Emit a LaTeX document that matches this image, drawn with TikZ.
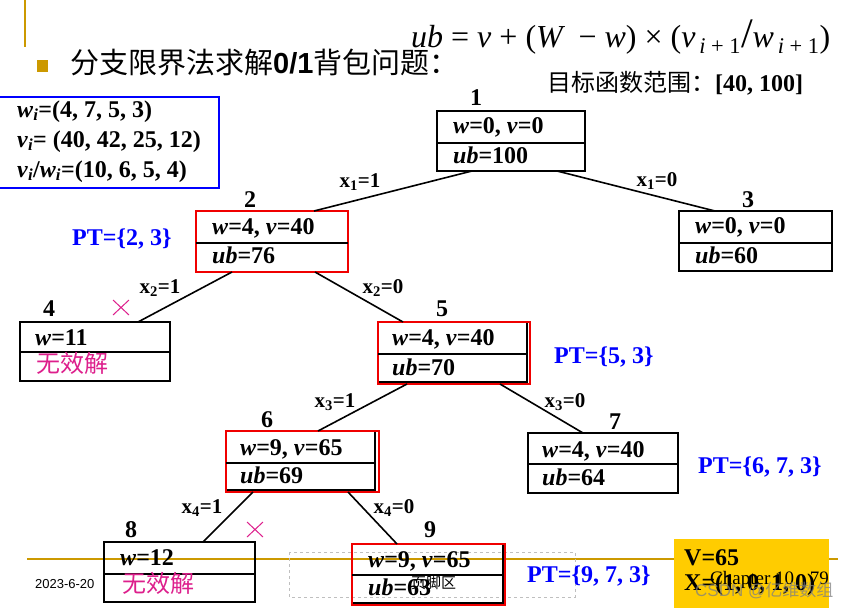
\documentclass[tikz,border=0pt]{standalone}
\usepackage{fontspec}
\setmainfont{Liberation Serif}
\newfontfamily\cjk{Noto Sans CJK SC}
\newfontfamily\arialf{Liberation Sans}
\usetikzlibrary{calc}
\definecolor{gold}{HTML}{CC9900}
\definecolor{ptblue}{HTML}{0000FF}
\definecolor{mypink}{HTML}{DD1F8C}
\definecolor{myred}{HTML}{F00000}
\definecolor{myyellow}{HTML}{FFCC00}
\newcommand\vi[1]{\textit{#1}}
\begin{document}
\begin{tikzpicture}[x=1pt,y=-1pt,
  tb/.style={draw=black, line width=2pt, inner sep=0pt, outer sep=0pt, rectangle},
  rb/.style={draw=myred, line width=2.5pt, inner sep=0pt, outer sep=0pt, rectangle},
  inner/.style={draw=black, line width=2pt},
  divl/.style={draw=black, line width=2pt},
  rowt/.style={anchor=base west, inner sep=0pt, font=\fontsize{24}{26}\selectfont\bfseries},
  numl/.style={anchor=base, inner sep=0pt, font=\fontsize{24}{26}\selectfont\bfseries},
  edgel/.style={anchor=base, inner sep=0pt, font=\fontsize{21}{22}\selectfont\bfseries},
  ptl/.style={anchor=base west, inner sep=0pt, text=ptblue, font=\fontsize{24}{26}\selectfont\bfseries},
  conn/.style={draw=black, line width=1.6pt},
  invalid/.style={anchor=base west, inner sep=0pt, text=mypink, font=\cjk\fontsize{24}{26}\selectfont},
  crossm/.style={draw=mypink, line width=1pt}
]
\useasboundingbox (0,0) rectangle (847,608);

% decoration lines
\draw[gold, line width=2pt] (25,0) -- (25,47);
\draw[gold, line width=2pt] (27,559) -- (838,559);
\draw[black!25, dashed, line width=0.8pt] (289,552) rectangle (575,597);

% title
\fill[gold] (37,60) rectangle (48,72);
\node[anchor=base west, inner sep=0pt, font=\fontsize{29}{30}\selectfont] (title) at (70,73)
  {\cjk 分支限界法求解{\arialf\bfseries 0/1}背包问题：};
\node[anchor=base west, inner sep=0pt, font=\fontsize{32}{34}\selectfont] (formula) at (411,47)
  {\textit{ub} = \textit{v} + (\textit{W}\ \,− \textit{w}) × (\textit{v}\textsubscript{\,\textit{i} + 1}{\fontsize{42}{42}\selectfont /}\textit{w}\textsubscript{\,\textit{i} + 1})};
\node[anchor=base west, inner sep=0pt] (range) at (547,91)
  {{\cjk\fontsize{24}{25}\selectfont 目标函数范围：}{\fontsize{24}{26}\selectfont\bfseries [40, 100]}};

% given data
\node[draw=ptblue, line width=2.5pt, minimum width=222, minimum height=91, inner sep=0pt] (given) at (108,142.5) {};
\node[rowt] (g1) at (17,117) {\vi{w}\textsubscript{\vi{i}}=(4, 7, 5, 3)};
\node[rowt] (g2) at (17,147) {\vi{v}\textsubscript{\vi{i}}= (40, 42, 25, 12)};
\node[rowt] (g3) at (17,177) {\vi{v}\textsubscript{\vi{i}}/\vi{w}\textsubscript{\vi{i}}=(10, 6, 5, 4)};

% node 1
\node[tb, minimum width=148, minimum height=60] (n1) at (511,141) {};
\draw[divl] (437,143) -- (585,143);
\node[rowt] (n1a) at (453,133) {\vi{w}=0, \vi{v}=0};
\node[rowt] (n1b) at (453,163) {\vi{ub}=100};
\node[numl] (l1) at (476,105) {1};

% node 2
\node[rb, minimum width=152, minimum height=61] (n2) at (272,241.5) {};
\draw[divl] (196,243) -- (348,243);
\node[rowt] (n2a) at (212,234) {\vi{w}=4, \vi{v}=40};
\node[rowt] (n2b) at (212,263) {\vi{ub}=76};
\node[numl] (l2) at (250,207) {2};
\node[ptl] (pt2) at (72,245) {PT=\{2, 3\}};

% node 3
\node[tb, minimum width=153, minimum height=60] (n3) at (755.5,241) {};
\draw[divl] (679,243) -- (832,243);
\node[rowt] (n3a) at (695,233) {\vi{w}=0, \vi{v}=0};
\node[rowt] (n3b) at (695,263) {\vi{ub}=60};
\node[numl] (l3) at (748,207) {3};

% node 4
\node[tb, minimum width=150, minimum height=59] (n4) at (95,351.5) {};
\draw[divl] (20,352) -- (170,352);
\node[rowt] (n4a) at (35,345) {\vi{w}=11};
\node[invalid] (n4b) at (36,372) {无效解};
\node[numl] (l4) at (49,316) {4};
\draw[crossm] (113,300) -- (129,315) (113,315) -- (129,300);

% node 5
\draw[inner] (378,322) rectangle (527,381.5);
\node[rb, minimum width=152, minimum height=62] (n5) at (454,353) {};
\draw[divl] (378,354) -- (527,354);
\node[rowt] (n5a) at (392,345) {\vi{w}=4, \vi{v}=40};
\node[rowt] (n5b) at (392,375) {\vi{ub}=70};
\node[numl] (l5) at (442,316) {5};
\node[ptl] (pt5) at (554,363) {PT=\{5, 3\}};

% node 6
\draw[inner] (226,431) rectangle (375,490);
\node[rb, minimum width=153, minimum height=61] (n6) at (302.5,461.5) {};
\draw[divl] (226,463) -- (375,463);
\node[rowt] (n6a) at (240,455) {\vi{w}=9, \vi{v}=65};
\node[rowt] (n6b) at (240,483) {\vi{ub}=69};
\node[numl] (l6) at (267,427) {6};

% node 7
\node[tb, minimum width=150, minimum height=60] (n7) at (603,463) {};
\draw[divl] (528,464) -- (678,464);
\node[rowt] (n7a) at (542,457) {\vi{w}=4, \vi{v}=40};
\node[rowt] (n7b) at (542,485) {\vi{ub}=64};
\node[numl] (l7) at (615,429) {7};
\node[ptl] (pt7) at (698,473) {PT=\{6, 7, 3\}};

% node 8
\node[tb, minimum width=151, minimum height=60] (n8) at (179.5,572) {};
\draw[divl] (104,574) -- (255,574);
\node[rowt] (n8a) at (120,565) {\vi{w}=12};
\node[invalid] (n8b) at (122,592) {无效解};
\node[numl] (l8) at (131,537) {8};
\draw[crossm] (247,522) -- (263,537) (247,537) -- (263,522);

% node 9
\draw[inner] (352,544) rectangle (503,603);
\node[rb, minimum width=153, minimum height=61] (n9) at (428.5,574.5) {};
\draw[divl] (352,575) -- (503,575);
\node[rowt] (n9a) at (368,567) {\vi{w}=9, \vi{v}=65};
\node[rowt] (n9b) at (368,595) {\vi{ub}=63};
\node[numl] (l9) at (430,537) {9};
\node[ptl] (pt9) at (527,582) {PT=\{9, 7, 3\}};

% connectors
\draw[conn] ([xshift=-39pt]n1.south) -- ([xshift=42pt]n2.north);
\draw[conn] ([xshift=46pt]n1.south) -- ([xshift=-40.5pt]n3.north);
\draw[conn] ([xshift=-40pt]n2.south) -- ([xshift=43pt]n4.north);
\draw[conn] ([xshift=43pt]n2.south) -- ([xshift=-51pt]n5.north);
\draw[conn] ([xshift=-47pt]n5.south) -- ([xshift=15.5pt]n6.north);
\draw[conn] ([xshift=46pt]n5.south) -- ([xshift=-20pt]n7.north);
\draw[conn] ([xshift=-49.5pt]n6.south) -- ([xshift=23.5pt]n8.north);
\draw[conn] ([xshift=45.5pt]n6.south) -- ([xshift=-31.5pt]n9.north);

% edge labels
\node[edgel] (e12) at (360,187) {x\textsubscript{1}=1};
\node[edgel] (e13) at (657,186) {x\textsubscript{1}=0};
\node[edgel] (e24) at (160,293) {x\textsubscript{2}=1};
\node[edgel] (e25) at (383,293) {x\textsubscript{2}=0};
\node[edgel] (e56) at (335,407) {x\textsubscript{3}=1};
\node[edgel] (e57) at (565,407) {x\textsubscript{3}=0};
\node[edgel] (e68) at (202,513) {x\textsubscript{4}=1};
\node[edgel] (e69) at (394,513) {x\textsubscript{4}=0};

% footer
\node[anchor=base west, inner sep=0pt, font=\arialf\fontsize{13}{14}\selectfont] (date) at (35,588) {2023-6-20};
\node[anchor=base west, inner sep=0pt, font=\cjk\fontsize{15}{16}\selectfont] (foot) at (411,588) {页脚区};

% result box
\fill[myyellow] (674,539) rectangle (829,608);
\node[rowt] (res1) at (684,565) {V=65};
\node[rowt] (res2) at (684,590) {X=(1, 0, 1, 0)};
\node[anchor=base west, inner sep=0pt, font=\fontsize{19}{20}\selectfont] (chap) at (710,584) {Chapter 10};
\node[anchor=base east, inner sep=0pt, font=\fontsize{19}{20}\selectfont] (pgno) at (829,584) {79};
\node[anchor=base west, inner sep=0pt, text=gray, opacity=0.75, font=\arialf\fontsize{17}{18}\selectfont] (wm) at (695,596) {CSDN @{\cjk 亿维数组}};
\end{tikzpicture}
\end{document}
